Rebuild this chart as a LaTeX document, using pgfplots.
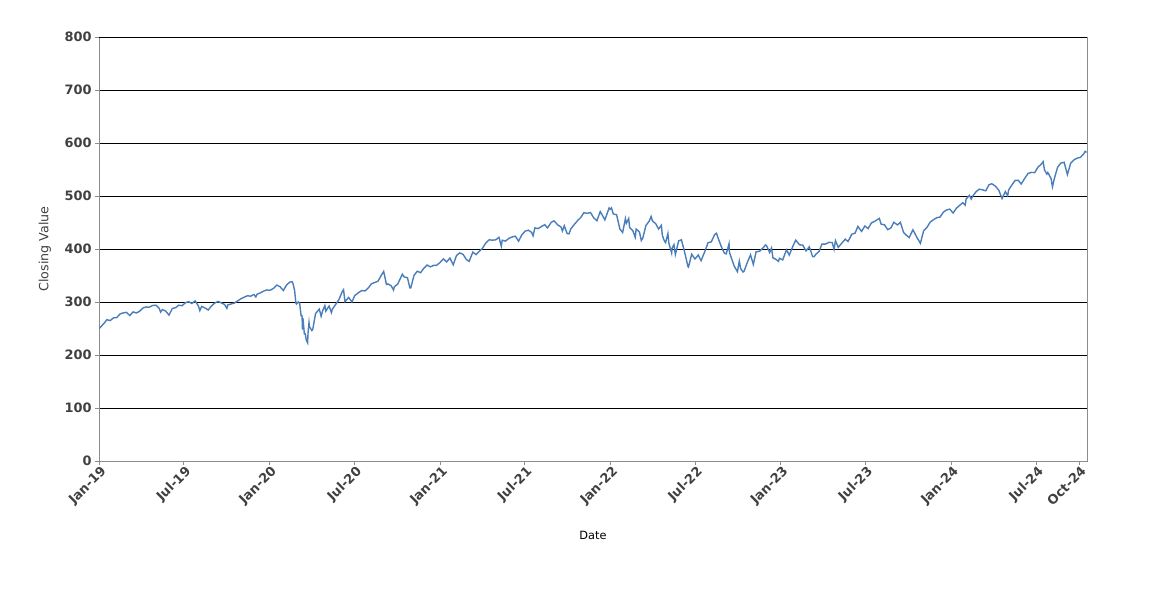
\documentclass[border=0pt]{standalone}
\usepackage{fontspec}
\setmainfont{DejaVu Sans}
\usepackage{pgfplots}
\pgfplotsset{compat=1.18}
\definecolor{linec}{HTML}{4A7EBB}
\definecolor{framec}{HTML}{8C8C8C}
\definecolor{labc}{HTML}{404040}
\begin{document}
\begin{tikzpicture}
\useasboundingbox (0,0) rectangle (862.5pt,-450pt);
\begin{axis}[
  at={(74.25pt,-345.75pt)}, anchor=south west,
  scale only axis, width=741pt, height=318pt,
  xmin=0, xmax=2117, ymin=0, ymax=800,
  ytick={0,100,...,800},
  xtick={0,181,365,547,731,912,1096,1277,1461,1642,1826,2008,2100},
  xticklabels={Jan-19,Jul-19,Jan-20,Jul-20,Jan-21,Jul-21,Jan-22,Jul-22,Jan-23,Jul-23,Jan-24,Jul-24,Oct-24},
  ymajorgrids, grid style={black, line width=0.6pt},
  axis line style={framec, line width=0.7pt},
  tick style={framec, line width=0.7pt},
  tick align=outside, tick pos=left, major tick length=3pt,
  /pgf/number format/assume math mode=true,
  ticklabel style={font=\bfseries\fontsize{9.7}{12}\selectfont, text=labc},
  xticklabel style={rotate=45, anchor=north east, inner sep=0.5pt, xshift=1pt},
  yticklabel style={anchor=east, xshift=1pt},
  xlabel={Date}, ylabel={Closing Value},
  xlabel style={font=\fontsize{8.5}{10}\selectfont, text=black, at={(axis description cs:0.5,-0.1745)}, anchor=center},
  ylabel style={font=\fontsize{9.5}{11}\selectfont, text=labc, at={(axis description cs:-0.0547,0.5)}, anchor=center},
]
\addplot[linec, line width=1.05pt] table {
x y
1 250.2
3 252.4
10 258.98
17 266.5
24 265.0
31 270.1
38 270.5
45 277.4
52 279.5
59 280.4
66 274.5
73 281.3
80 279.3
87 282.5
94 288.6
101 290.7
107 290.0
115 293.4
122 294.0
129 288.1
132 280.9
136 285.8
143 282.8
150 275.3
157 287.7
164 289.3
171 294.0
178 293.0
185 298.5
192 300.7
199 297.2
206 302.0
213 292.6
216 283.8
220 291.6
227 288.9
234 284.9
241 292.5
248 298.0
255 301.1
262 298.3
269 295.4
274 288.1
276 294.4
283 296.3
290 297.97
297 302.0
304 306.1
311 309.0
318 311.8
325 311.0
332 314.3
336 309.6
339 314.9
346 317.3
353 320.7
360 322.9
364 321.9
367 322.4
374 325.7
381 331.95
388 328.8
395 321.7
402 332.2
409 337.6
414 338.3
416 333.5
419 322.4
422 297.5
423 296.3
427 300.2
430 297.5
433 274.2
435 274.4
436 248.1
437 269.3
440 239.9
442 240.0
444 228.8
447 222.95
448 243.2
450 261.2
451 253.4
456 246.2
458 248.2
464 278.2
472 286.6
476 273.0
479 282.97
484 293.2
486 282.8
493 292.4
498 280.0
500 286.3
507 295.4
514 304.3
521 319.3
524 323.2
527 300.6
535 308.6
542 300.1
548 312.2
556 317.6
563 321.7
570 320.9
577 326.5
584 334.6
591 336.8
598 339.5
605 350.6
610 357.7
616 333.0
619 334.1
626 330.7
631 322.6
633 328.7
640 333.8
647 346.9
650 352.4
654 347.3
661 345.8
666 326.7
668 326.5
675 350.2
682 358.1
689 355.3
696 363.7
703 369.85
710 366.3
717 369.2
723 369.0
730 373.9
738 381.3
745 375.7
752 382.9
759 370.1
766 387.7
773 392.6
780 390.0
787 380.4
793 376.7
801 394.1
808 389.5
815 395.98
821 400.6
829 411.5
836 417.3
843 416.7
850 417.3
857 422.1
862 405.4
864 416.6
871 414.9
878 420.0
885 422.6
892 424.3
899 414.9
906 426.6
913 433.7
920 435.5
927 431.3
930 424.97
934 439.9
941 438.5
948 442.5
955 445.9
961 439.9
969 450.25
975 453.2
983 445.4
990 441.4
993 434.0
997 443.9
1003 429.1
1007 428.6
1011 437.9
1018 445.9
1025 453.1
1032 459.25
1039 468.5
1046 467.3
1053 468.9
1060 458.97
1064 455.6
1067 453.4
1074 470.7
1081 459.9
1084 454.98
1093 477.5
1095 474.96
1098 477.7
1102 466.1
1109 464.7
1116 437.98
1122 431.2
1128 457.4
1130 448.7
1135 457.5
1137 440.5
1144 434.2
1149 421.95
1151 437.75
1158 432.2
1162 416.0
1165 420.1
1172 444.5
1179 452.7
1183 461.55
1186 452.9
1193 447.6
1199 437.8
1205 444.7
1207 426.0
1211 416.1
1214 412.0
1219 429.1
1221 411.3
1227 392.3
1228 401.7
1232 408.3
1235 389.6
1242 415.3
1248 417.4
1256 389.8
1262 366.65
1263 365.9
1270 390.1
1277 381.2
1284 388.7
1290 377.9
1298 395.1
1305 412.0
1312 413.5
1319 427.1
1323 429.7
1326 422.1
1333 405.3
1340 392.2
1344 390.8
1350 410.0
1351 393.1
1354 385.6
1361 367.95
1368 357.2
1372 377.1
1375 362.8
1380 356.6
1382 357.6
1389 374.3
1396 389.0
1402 371.0
1408 394.7
1416 396.0
1423 402.3
1428 407.7
1430 406.9
1437 393.3
1441 401.97
1444 383.3
1450 380.7
1456 376.7
1458 382.4
1465 379.4
1473 398.5
1479 388.6
1487 405.7
1493 416.8
1501 408.0
1508 407.3
1515 396.4
1522 404.2
1529 385.9
1532 385.4
1536 389.99
1543 395.75
1549 409.4
1556 409.2
1564 412.5
1571 412.2
1575 399.4
1578 415.9
1584 403.1
1592 411.6
1599 418.6
1605 414.1
1613 427.9
1620 429.9
1626 442.6
1634 433.2
1641 443.3
1648 438.6
1655 449.3
1662 452.2
1672 457.8
1676 446.8
1683 445.65
1690 436.5
1697 439.97
1703 450.35
1711 445.5
1717 450.4
1724 431.4
1730 426.0
1736 421.6
1744 436.3
1753 421.2
1760 410.7
1767 434.7
1774 440.6
1781 450.8
1788 455.3
1795 459.1
1802 460.2
1809 469.3
1816 473.65
1823 475.3
1830 467.9
1837 476.7
1844 482.4
1851 487.4
1856 482.9
1858 494.35
1865 501.2
1869 494.1
1872 499.5
1879 507.85
1886 512.85
1893 511.7
1900 509.8
1907 521.2
1913 523.1
1921 518.4
1928 510.9
1935 495.2
1942 508.3
1947 500.35
1949 511.3
1956 520.8
1963 529.45
1970 529.4
1976 522.6
1984 534.0
1991 542.8
1998 544.5
2005 544.2
2012 554.6
2019 559.99
2023 564.9
2026 548.99
2031 541.2
2033 544.4
2040 532.9
2043 517.4
2047 532.99
2054 554.3
2061 562.1
2068 563.7
2075 540.4
2082 562.0
2089 568.25
2096 571.5
2103 572.98
2110 579.6
2113 584.3
2116 582.35
};
\draw[black, line width=0.6pt] (axis cs:0,800) -- (axis cs:2117,800);
\end{axis}
\end{tikzpicture}
\end{document}
